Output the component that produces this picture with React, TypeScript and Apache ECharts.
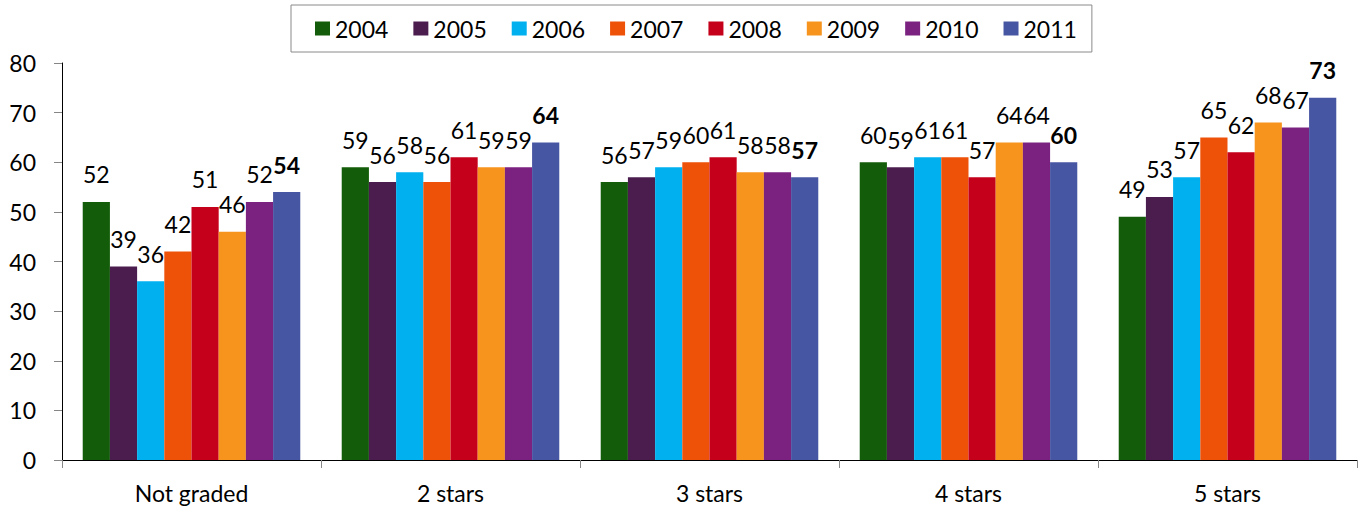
import React, { useEffect, useRef } from "react";
import * as echarts from "echarts";

// Star-grade categories along the x axis
const categories = ["Not graded", "2 stars", "3 stars", "4 stars", "5 stars"];

// One series per year
const years = ["2004", "2005", "2006", "2007", "2008", "2009", "2010", "2011"];
const values2004 = [52, 59, 56, 60, 49];
const values2005 = [39, 56, 57, 59, 53];
const values2006 = [36, 58, 59, 61, 57];
const values2007 = [42, 56, 60, 61, 65];
const values2008 = [51, 61, 61, 57, 62];
const values2009 = [46, 59, 58, 64, 68];
const values2010 = [52, 59, 58, 64, 67];
const values2011 = [54, 64, 57, 60, 73];
const seriesValues = [
  values2004, values2005, values2006, values2007,
  values2008, values2009, values2010, values2011,
];

const colors = [
  "#135C09", "#4B1D4F", "#00B0EF", "#EE5108",
  "#C5001A", "#F7941E", "#7B2280", "#4756A3",
];

const FONT = "Lato, 'Open Sans', sans-serif";
const FONT_SIZE = 23;

export default function App() {
  const ref = useRef<HTMLDivElement>(null);

  useEffect(() => {
    if (!ref.current) return;
    const chart = echarts.init(ref.current, undefined, { renderer: "svg" });
    const lastIndex = years.length - 1;
    chart.setOption({
      animation: false,
      color: colors,
      textStyle: { fontFamily: FONT },
      legend: {
        data: years,
        left: 291,
        top: 5,
        padding: [12, 15, 12, 24],
        itemGap: 25,
        itemWidth: 15,
        itemHeight: 14,
        borderColor: "#8A8A8A",
        borderWidth: 1,
        icon: "rect",
        textStyle: { fontSize: FONT_SIZE, color: "#000", fontFamily: FONT },
      },
      grid: { left: 62, right: 4, top: 63, bottom: 50 },
      xAxis: {
        type: "category",
        data: categories,
        axisLine: { lineStyle: { color: "#000", width: 1 } },
        axisTick: { show: true, length: 8, lineStyle: { color: "#868686" } },
        axisLabel: {
          fontSize: FONT_SIZE,
          color: "#000",
          margin: 21,
          fontFamily: FONT,
        },
      },
      yAxis: {
        type: "value",
        min: 0,
        max: 80,
        interval: 10,
        axisLine: { show: true, lineStyle: { color: "#000", width: 1 } },
        axisTick: { show: true, length: 8, lineStyle: { color: "#868686" } },
        splitLine: { show: false },
        axisLabel: {
          fontSize: FONT_SIZE,
          color: "#000",
          margin: 26,
          fontFamily: FONT,
        },
      },
      series: years.map((year, i) => ({
        name: year,
        type: "bar",
        data: seriesValues[i],
        barGap: "0%",
        barCategoryGap: "16%",
        itemStyle: { color: colors[i] },
        label: {
          show: true,
          position: "top",
          distance: 16,
          fontSize: FONT_SIZE,
          color: "#000",
          fontFamily: FONT,
          fontWeight: i === lastIndex ? "bold" : "normal",
        },
      })),
    });
    return () => chart.dispose();
  }, []);

  return (
    <div
      ref={ref}
      style={{ position: "absolute", left: 0, top: 0, width: 1361, height: 510 }}
    />
  );
}
